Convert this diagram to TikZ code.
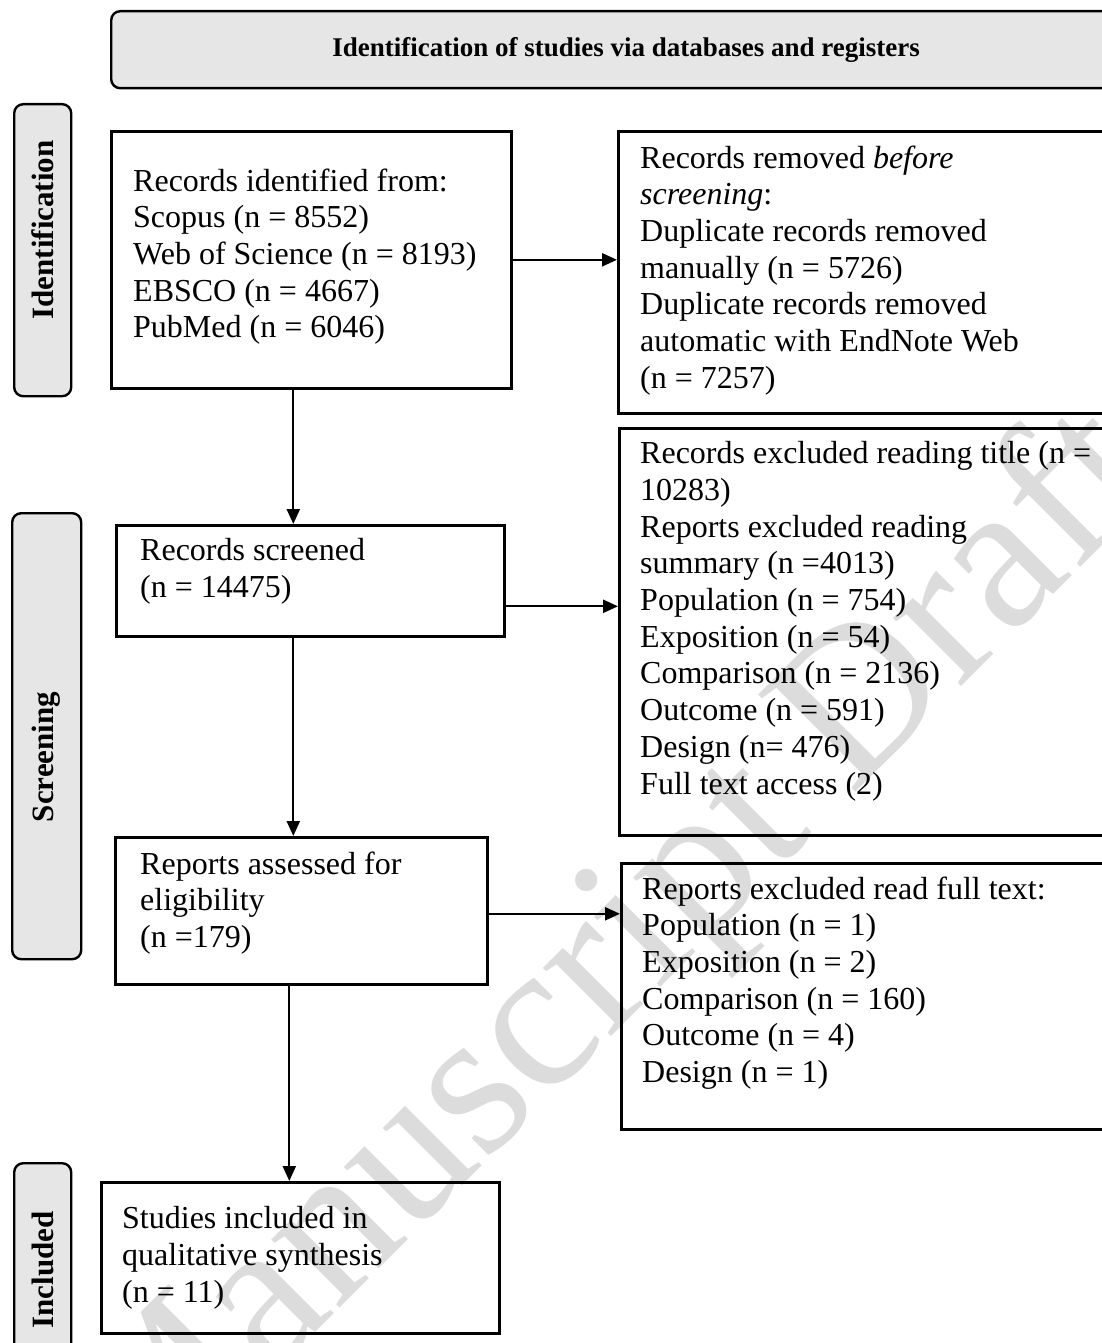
\documentclass[tikz,border=0pt]{standalone}
\usepackage{fontspec}
\setmainfont{Liberation Serif}
\usetikzlibrary{arrows.meta}
\newcommand\bodyfnt{\fontsize{32}{36.7}\selectfont}
\newcommand\lblfnt{\fontsize{31}{36}\selectfont\bfseries}
\newcommand\hdrfnt{\fontsize{27}{32}\selectfont\bfseries}
\newcommand\wmfnt{\fontsize{210}{212}\selectfont}
\definecolor{lblgray}{HTML}{E6E6E6}
\definecolor{wmgray}{HTML}{DCDCDC}
\begin{document}
\begin{tikzpicture}[x=1pt,y=-1pt,
  box/.style={draw=black, line width=2.6pt, rectangle, inner sep=0pt, anchor=north west},
  phase/.style={draw=black, line width=2.4pt, fill=lblgray, rounded corners=9pt, inner sep=0pt, anchor=north west},
  txt/.style={anchor=north west, inner sep=0pt, align=left, font=\bodyfnt, execute at begin node=\strut},
  ptxt/.style={rotate=90, inner sep=0pt, font=\lblfnt},
  arr/.style={line width=2.3pt, -{Triangle[length=15pt,width=13pt]}}]
\useasboundingbox (0,0) rectangle (1102,1343);
\clip (0,0) rectangle (1102,1343);
\fill[white] (0,0) rectangle (1102,1343);
% watermark
\node[rotate=45, text=wmgray, font=\wmfnt, inner sep=0pt] (wm) at (615,960) {Manuscript Draft};
% header
\node[phase, minimum width=1030pt, minimum height=77pt, font=\hdrfnt] (hdr) at (110,10) {Identification of studies via databases and registers};
% phase labels
\node[phase, minimum width=57pt, minimum height=292pt] (pid) at (13,103) {};
\node[ptxt] (tid) at (43,230) {Identification};
\node[phase, minimum width=69pt, minimum height=446pt] (pscr) at (11,512) {};
\node[ptxt] (tscr) at (46,757) {Screening};
\node[phase, minimum width=57pt, minimum height=216pt] (pinc) at (13,1162) {};
\node[ptxt] (tinc) at (43,1270) {Included};
% boxes
\node[box, minimum width=400pt, minimum height=257pt] (ident) at (110,130) {};
\node[box, minimum width=520pt, minimum height=282pt] (removed) at (617,130) {};
\node[box, minimum width=388pt, minimum height=111pt] (screened) at (115,524) {};
\node[box, minimum width=520pt, minimum height=407pt] (excl) at (618,427) {};
\node[box, minimum width=372pt, minimum height=147pt] (assessed) at (114,836) {};
\node[box, minimum width=520pt, minimum height=266pt] (full) at (620,862) {};
\node[box, minimum width=398pt, minimum height=151pt] (studies) at (100,1181) {};
% texts
\node[txt] (t1) at (133,168.3) {Records identified from:\\Scopus (n = 8552)\\Web of Science (n = 8193)\\EBSCO (n = 4667)\\PubMed (n = 6046)};
\node[txt] (t2) at (640,145.3) {Records removed \textit{before}\\\textit{screening}:\\Duplicate records removed\\manually (n = 5726)\\Duplicate records removed\\automatic with EndNote Web\\(n = 7257)};
\node[txt] (t3) at (140,538.3) {Records screened\\(n = 14475)};
\node[txt] (t4) at (640,441.3) {Records excluded reading title (n =\\10283)\\Reports excluded reading\\summary (n =4013)\\Population (n = 754)\\Exposition (n = 54)\\Comparison (n = 2136)\\Outcome (n = 591)\\Design (n= 476)\\Full text access (2)};
\node[txt] (t5) at (140,851.3) {Reports assessed for\\eligibility\\(n =179)};
\node[txt] (t6) at (642,876.3) {Reports excluded read full text:\\Population (n = 1)\\Exposition (n = 2)\\Comparison (n = 160)\\Outcome (n = 4)\\Design (n = 1)};
\node[txt] (t7) at (122,1206.3) {Studies included in\\qualitative synthesis\\(n = 11)};
% connectors
\draw[arr] (ident.east) -- (ident.east -| removed.west);
\draw[arr] ([xshift=-18pt]ident.south) coordinate (a2) -- (a2 |- screened.north);
\draw[arr] ([yshift=-25.5pt]screened.east) coordinate (a3) -- (a3 -| excl.west);
\draw[arr] ([xshift=-17pt]screened.south) coordinate (a4) -- (a4 |- assessed.north);
\draw[arr] ([yshift=-3pt]assessed.east) coordinate (a5) -- (a5 -| full.west);
\draw[arr] ([xshift=-12pt]assessed.south) coordinate (a6) -- (a6 |- studies.north);
\end{tikzpicture}
\end{document}
